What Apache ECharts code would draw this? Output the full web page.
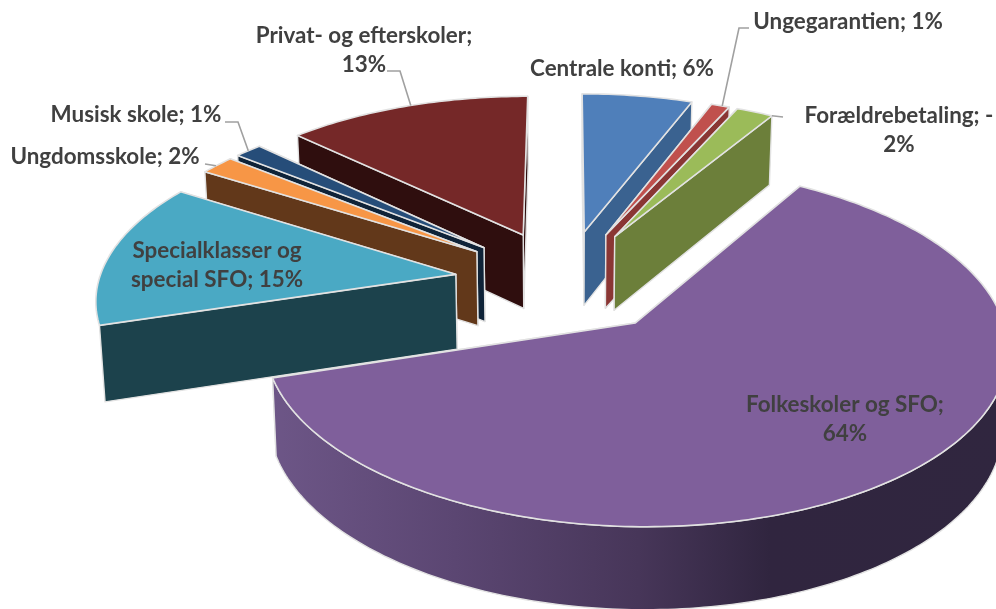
<!DOCTYPE html>
<html>
<head>
<meta charset="utf-8">
<style>html,body{margin:0;padding:0;background:#fff}#c{width:996px;height:609px}</style>
<script src="https://cdn.jsdelivr.net/npm/echarts@6/dist/echarts.min.js"></script>
</head>
<body>
<div id="c"></div>
<script>
// ---- data (slice sizes estimated from their angles) ----
const categories = ['Centrale konti','Ungegarantien','Forældrebetaling','Folkeskoler og SFO','Specialklasser og special SFO','Ungdomsskole','Musisk skole','Privat- og efterskoler'];
const percents = [6, 1, -2, 64, 14.3, 1.9, 1.5, 13.3];

// ---- styles ----
const topColors  = ['#4f7fba','#c0504d','#9bbb59','#7f5f9b','#4aa9c4','#f79646','#264d79','#752828'];
const sideColors = ['#3a6290','#8a3634','#6c7f3a','#5a4570','#1c424c','#62381a','#0f2338','#2f0e0e'];
const labelLines = [
  ['Centrale konti; 6%'],['Ungegarantien; 1%'],['Forældrebetaling; -','2%'],['Folkeskoler og SFO;','64%'],
  ['Specialklasser og','special SFO; 15%'],['Ungdomsskole; 2%'],['Musisk skole; 1%'],['Privat- og efterskoler;','13%']
];
const labelAnchors = [[622,69],[848,22],[899,116],[845,405],[217,251],[105,157],[136,115],[364,36]];
const labelGap = 29;
// leader lines: fraction along the outer arc, then the elbow points towards the label
const leaders = [null,{f:0.6,pts:[[739,28],[749,28]]},{f:1,pts:[[783,117]]},null,null,{f:0.45,pts:[[205,164]]},{f:0.5,pts:[[238,122],[225,122]]},{f:0.52,pts:[[400,71],[387,71]]}];

// ---- projection of the tilted, exploded pie ----
const cx=565, cy=281, A=357, B=166.8, P=0.125, EXPLODE=0.31, DEPTH=75, SHRINK=0.012;
const RIM='#e2e2e2';
const total = percents.reduce((s,v)=>s+Math.abs(v),0);
const rad = d=>d*Math.PI/180;
function proj(u,v){const w=1-P*v;return [cx+A*u/w, cy+B*v/w, w];}
function drop(p){return [cx+(p[0]-cx)*(1-SHRINK), p[1]+DEPTH/Math.pow(p[2],0.6)];}
function xy(p){return [p[0],p[1]];}

const angles=[];(function(){let a=0;percents.forEach(v=>{const s=Math.abs(v)/total*360;angles.push([a,a+s]);a+=s;});})();

function renderSlice(params){
  const i=params.dataIndex, a0=angles[i][0], a1=angles[i][1], mid=rad((a0+a1)/2);
  const ox=Math.sin(mid)*EXPLODE, oy=-Math.cos(mid)*EXPLODE;
  const at=t=>proj(ox+Math.sin(rad(t)),oy-Math.cos(rad(t)));
  const apex=proj(ox,oy), n=Math.max(4,Math.ceil(a1-a0));
  const arc=[],angs=[];
  for(let k=0;k<=n;k++){const t=a0+(a1-a0)*k/n;angs.push(t);arc.push(at(t));}
  const base=Math.round(apex[1])*10, ch=[];
  const wall=(p,q,z)=>({type:'polygon',z2:base+z,shape:{points:[xy(p),xy(q),drop(q),drop(p)]},
    style:{fill:sideColors[i],stroke:RIM,lineWidth:1.4,lineJoin:'round'}});
  const first=arc[0], last=arc[n];
  ch.push(wall(apex,first,first[1]<last[1]?0:1));
  ch.push(wall(apex,last,first[1]<last[1]?1:0));
  // outer curved wall: only the part clearly facing the viewer
  const front=arc.filter((p,k)=>-Math.cos(rad(angs[k]))>=0.29);
  if(front.length>1){
    const isBig=Math.abs(percents[i])>30;
    ch.push({type:'polygon',z2:base+2,shape:{points:front.map(xy).concat(front.map(drop).reverse())},
      style:{fill:isBig?{type:'linear',x:0,y:0,x2:1,y2:0,colorStops:[
        {offset:0,color:'#6d5687'},{offset:0.25,color:'#5b4672'},{offset:0.5,color:'#473659'},
        {offset:0.68,color:'#30253f'},{offset:1,color:'#30263f'}]}:sideColors[i],
        stroke:RIM,lineWidth:1.4,lineJoin:'round'}});
  }
  ch.push({type:'polygon',z2:base+3,shape:{points:[xy(apex)].concat(arc.map(xy))},
    style:{fill:topColors[i],stroke:RIM,lineWidth:1.6,lineJoin:'round'}});
  const L=leaders[i];
  if(L){
    const s=at(a0+(a1-a0)*L.f);
    ch.push({type:'polyline',z2:90000,shape:{points:[xy(s)].concat(L.pts)},style:{fill:null,stroke:'#a0a0a0',lineWidth:1.6}});
  }
  labelLines[i].forEach((t,k)=>{
    ch.push({type:'text',z2:100000,style:{x:labelAnchors[i][0],y:labelAnchors[i][1]+k*labelGap,text:t,
      align:'center',verticalAlign:'middle',font:'bold 22.4px Lato',fill:'#404040'}});
  });
  return {type:'group',children:ch};
}

const chart=echarts.init(document.getElementById('c'),null,{renderer:'canvas'});
chart.setOption({
  animation:false,
  backgroundColor:'#fff',
  series:[{type:'custom',coordinateSystem:'none',renderItem:renderSlice,silent:true,
    data:categories.map((c,i)=>({name:c,value:[Math.abs(percents[i]),percents[i]]}))}]
});
</script>
</body>
</html>
